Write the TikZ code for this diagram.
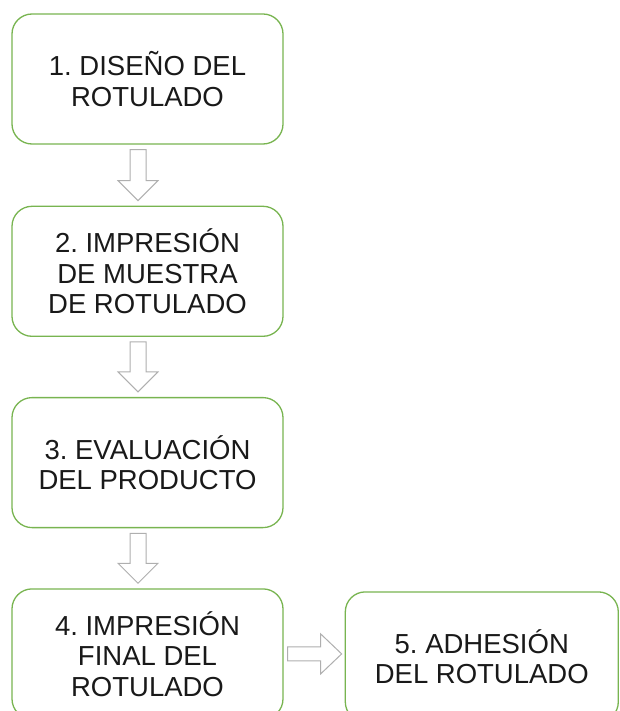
\documentclass[tikz,border=0pt]{standalone}
\usepackage{fontspec}
\setmainfont{Liberation Sans}
\usetikzlibrary{calc, positioning}
\definecolor{boxgreen}{RGB}{120,180,80}
\definecolor{arrowgray}{RGB}{175,175,175}
\definecolor{textgray}{RGB}{25,25,25}
\frenchspacing
\tikzset{
    stepbox/.style={draw=boxgreen, line width=1.3pt, rounded corners=20pt,
        minimum width=271pt, minimum height=130pt, inner sep=0pt,
        align=center, text=textgray, font=\fontsize{27.5}{30.5}\selectfont},
    blockarrow/.style={draw=arrowgray, fill=white, line width=1pt, line join=miter}
}

\begin{document}
\begin{tikzpicture}[x=1pt, y=-1pt]
           \useasboundingbox (0,0) rectangle (619,711);
           \def\gap{61pt};

           \node[stepbox] (b1) at (147.5,79) {1. DISEÑO DEL\\ROTULADO};
           \node[stepbox, below=\gap of b1] (b2) {2. IMPRESIÓN\\DE MUESTRA\\DE ROTULADO};
           \node[stepbox, below=60pt of b2] (b3) {3. EVALUACIÓN\\DEL PRODUCTO};
           \node[stepbox, below=60pt of b3] (b4) {4. IMPRESIÓN\\FINAL DEL\\ROTULADO};
           \node[stepbox, minimum width=273pt, right=\gap of b4, yshift=-3pt] (b5) {5. ADHESIÓN\\DEL ROTULADO};

           % flechas hacia abajo
           \foreach \a/\b in {b1/b2, b2/b3, b3/b4}{
               \draw[blockarrow] ($(\a.south)+(-17.5,5)$) -- ($(\a.south)+(-1.5,5)$)
                   -- ($(\b.north)+(-1.5,-25)$) -- ($(\b.north)+(10.5,-25)$)
                   -- ($(\b.north)+(-9.5,-5)$) -- ($(\b.north)+(-29.5,-25)$)
                   -- ($(\b.north)+(-17.5,-25)$) -- cycle;
           }

           % flecha a la derecha
           \coordinate (t) at (b4.east -| b5.west);
           \draw[blockarrow] ($(b4.east)+(4,-7)$) -- ($(t)+(-24,-7)$) -- ($(t)+(-24,-20)$)
               -- ($(t)+(-3,0)$) -- ($(t)+(-24,20)$) -- ($(t)+(-24,7)$)
               -- ($(b4.east)+(4,7)$) -- cycle;
       \end{tikzpicture}
\end{document}
